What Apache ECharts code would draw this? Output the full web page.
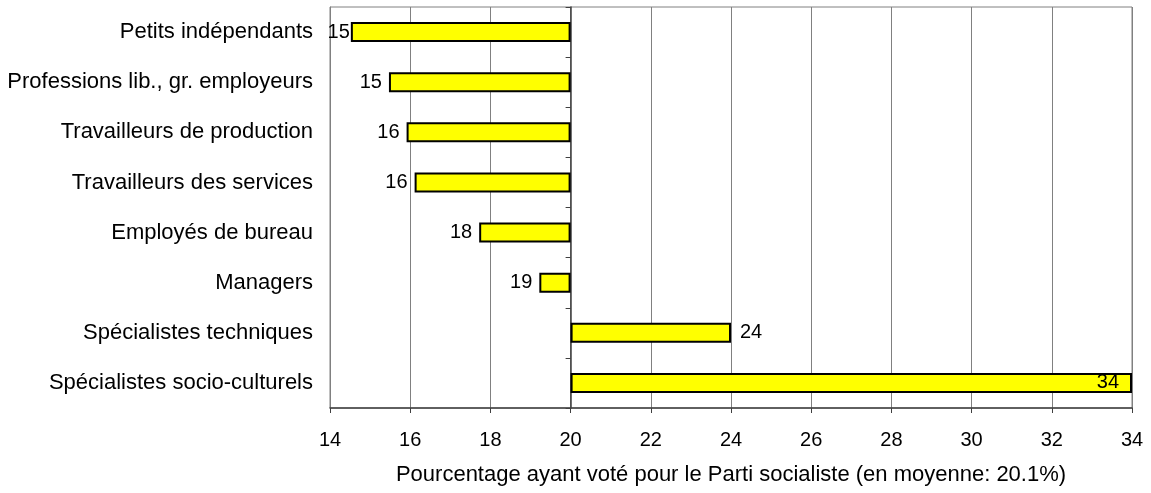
<!DOCTYPE html>
<html>
<head>
<meta charset="utf-8">
<script src="https://cdn.jsdelivr.net/npm/echarts@6/dist/echarts.min.js"></script>
<style>
    html, body { margin: 0; padding: 0; background: #fff; }
    #chart { width: 1151px; height: 493px; }
</style>
</head>
<body>
<div id="chart"></div>
<script>
    // data
    const categories = [
        'Petits indépendants',
        'Professions lib., gr. employeurs',
        'Travailleurs de production',
        'Travailleurs des services',
        'Employés de bureau',
        'Managers',
        'Spécialistes techniques',
        'Spécialistes socio-culturels'
    ]
    const values = [14.52, 15.47, 15.91, 16.11, 17.72, 19.22, 24.0, 34.0]
    const baseline = 20
    const xMin = 14
    const xMax = 34
    const xStep = 2
    const axisName = 'Pourcentage ayant voté pour le Parti socialiste (en moyenne: 20.1%)'

    const W = 1151
    const gridLeft = 330, gridRight = 19, gridTop = 7, gridBottom = 85
    const plotW = W - gridLeft - gridRight
    const baseOffset = (baseline - xMin) / (xMax - xMin) * plotW

    const font = 'Liberation Sans, Arial, sans-serif'

    let hidden = values.map(v => Math.min(v, baseline))
    let shown = values.map((v, i) => {
        let pos = 'right', dist = 9
        if (v < baseline) { pos = 'left'; dist = i === 0 ? 1 : 7 }
        else if (v > 30) { pos = 'insideRight'; dist = 13 }
        return {
            value: Math.abs(v - baseline),
            label: { position: pos, distance: dist }
        }
    })

    let myChart = echarts.init(document.getElementById('chart'))
    let option = {
        animation: false,
        grid: {
            left: gridLeft, right: gridRight, top: gridTop, bottom: gridBottom,
            show: true, borderColor: '#808080', borderWidth: 1,
            containLabel: false, outerBoundsMode: 'none'
        },
        xAxis: {
            type: 'value',
            min: xMin, max: xMax, interval: xStep,
            name: axisName,
            nameLocation: 'middle',
            nameGap: 56,
            nameTextStyle: { fontFamily: font, fontSize: 22, color: '#000' },
            axisLine: { show: true, lineStyle: { color: '#404040', width: 1.5 } },
            axisTick: { show: true, length: 5, lineStyle: { color: '#404040' } },
            axisLabel: { margin: 22, fontFamily: font, fontSize: 20, color: '#000' },
            splitLine: { show: true, lineStyle: { color: '#808080', width: 1 } }
        },
        yAxis: [
            {
                type: 'category',
                data: categories,
                inverse: true,
                axisLine: { show: true, lineStyle: { color: '#808080' } },
                axisTick: { show: false },
                axisLabel: { margin: 17, fontFamily: font, fontSize: 22, color: '#000' },
                splitLine: { show: false }
            },
            {
                // the vertical line at the baseline with its ticks
                type: 'category',
                data: categories,
                inverse: true,
                position: 'left',
                offset: -baseOffset,
                axisLine: { show: true, onZero: false, lineStyle: { color: '#404040', width: 1.5 } },
                axisTick: { show: true, length: 5, lineStyle: { color: '#404040' } },
                axisLabel: { show: false },
                splitLine: { show: false }
            }
        ],
        series: [
            {
                name: 'base',
                type: 'bar',
                stack: 'a',
                barWidth: 20,
                silent: true,
                itemStyle: { color: 'transparent', borderWidth: 0 },
                data: hidden
            },
            {
                name: 'vote',
                type: 'bar',
                stack: 'a',
                barWidth: 20,
                itemStyle: { color: '#ffff00', borderColor: '#000', borderWidth: 2 },
                label: {
                    show: true,
                    fontFamily: font,
                    fontSize: 20,
                    color: '#000',
                    formatter: p => Math.round(values[p.dataIndex])
                },
                data: shown
            }
        ]
    }
    myChart.setOption(option)
</script>
</body>
</html>
